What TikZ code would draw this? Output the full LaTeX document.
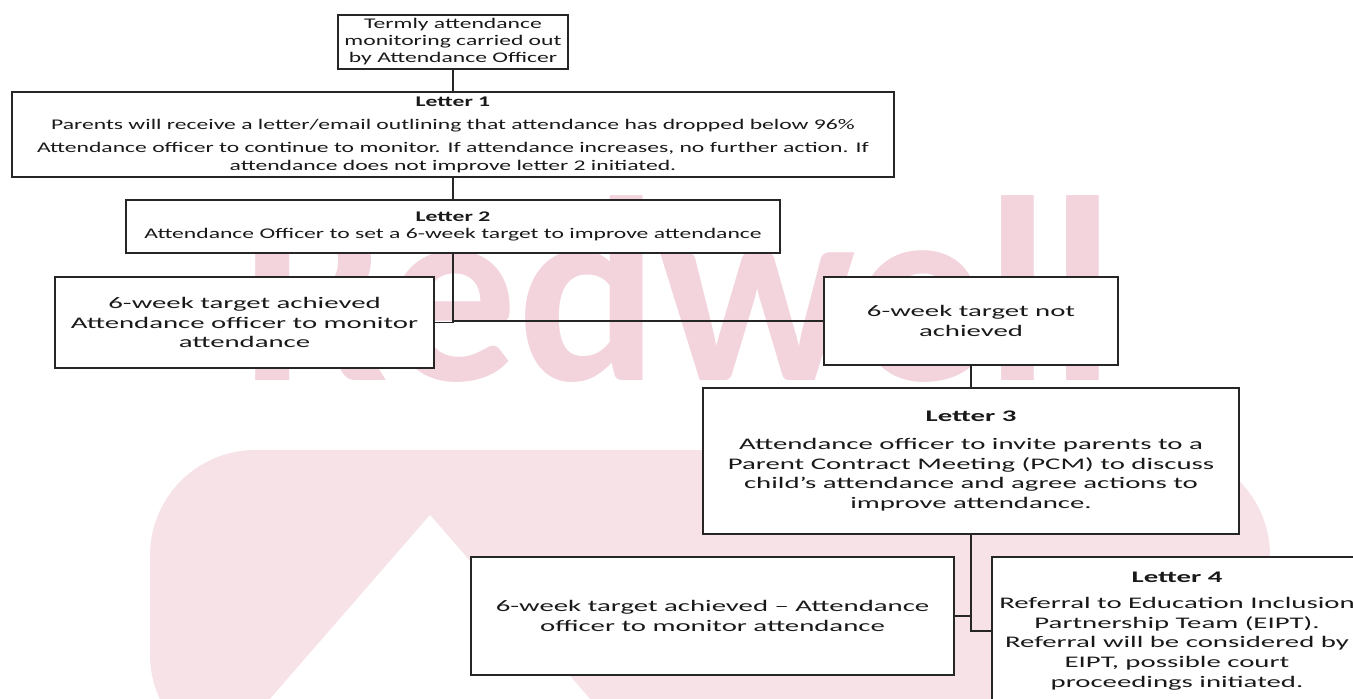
\documentclass[tikz,border=0pt]{standalone}
\usepackage{fontspec}
\setmainfont{Carlito}
\newfontfamily\smallfont{Carlito}[FakeStretch=1.6]
\newfontfamily\bigfont{Carlito}[FakeStretch=1.78]
\usepackage{tikz}
\usetikzlibrary{positioning}

\definecolor{markpink}{RGB}{243,212,220}
\definecolor{palepink}{RGB}{247,226,231}

\tikzset{
    box/.style={draw=black!85, line width=1.1pt, fill=white, inner sep=0pt, text=black!90},
    smalltext/.style={font=\smallfont\fontsize{8.4}{10.2}\selectfont},
    bigtext/.style={font=\bigfont\fontsize{9.2}{11.2}\selectfont},
    link/.style={draw=black!85, line width=0.9pt},
}

\begin{document}
\begin{tikzpicture}[align=center, x=0.02cm, y=-0.02cm]
    \clip (0,0) rectangle (1353,699);
    \fill[white] (0,0) rectangle (1353,699);

    % watermark
    \fill[palepink, rounded corners=60pt] (150,450) rectangle (1270,760);
    \fill[white] (270,699) -- (430,515) -- (590,699) -- cycle;
    \node [anchor=base west, inner sep=0pt, text=markpink, font=\bfseries\fontsize{150}{150}\selectfont] (watermark) at (240,380) {Redwell};

    \node [box, smalltext, minimum width=4.6cm, minimum height=1.08cm] (term) at (453,42)
        {Termly attendance\\[-0.5pt]monitoring carried out\\[-0.5pt]by Attendance Officer};
    \node [box, smalltext, minimum width=17.64cm, minimum height=1.7cm] (letter1) at (453,134.5)
        {\textbf{Letter 1}\\[2.9pt]Parents will receive a letter/email outlining that attendance has dropped below 96\%\\[2.9pt]
         Attendance officer to continue to monitor. If attendance increases, no further action. If\\attendance does not improve letter 2 initiated.};
    \node [box, smalltext, minimum width=13.08cm, minimum height=1.06cm] (letter2) at (453,226.5)
        {\textbf{Letter 2}\\[-0.5pt]Attendance Officer to set a 6-week target to improve attendance};

    \node [box, bigtext, minimum width=7.58cm, minimum height=1.82cm] (achieved) at (244.5,322.5)
        {6-week target achieved\\Attendance officer to monitor\\attendance};
    \node [box, bigtext, minimum width=5.88cm, minimum height=1.76cm] (notachieved) at (971,321)
        {6-week target not\\achieved};

    \node [box, bigtext, minimum width=10.72cm, minimum height=2.92cm] (letter3) at (971,461)
        {\textbf{Letter 3}\\[4.7pt]Attendance officer to invite parents to a\\Parent Contract Meeting (PCM) to discuss\\
         child’s attendance and agree actions to\\improve attendance.};

    \node [box, bigtext, minimum width=9.66cm, minimum height=2.36cm] (monitor) at (712.5,616)
        {6-week target achieved – Attendance\\officer to monitor attendance};
    \node [box, bigtext, minimum width=7.4cm, minimum height=2.96cm] (letter4) at (1177,631)
        {\textbf{Letter 4}\\[3.5pt]Referral to Education Inclusion\\Partnership Team (EIPT).\\Referral will be considered by\\
         EIPT, possible court\\proceedings initiated.};

    \draw[link] (term) -- (letter1);
    \draw[link] (letter1) -- (letter2);
    \draw[link] (letter2) |- (achieved);
    \draw[link] (letter2) |- (notachieved);
    \draw[link] (notachieved) -- (letter3);
    \draw[link] (letter3) |- (monitor);
    \draw[link] (letter3) |- (letter4);
\end{tikzpicture}
\end{document}
